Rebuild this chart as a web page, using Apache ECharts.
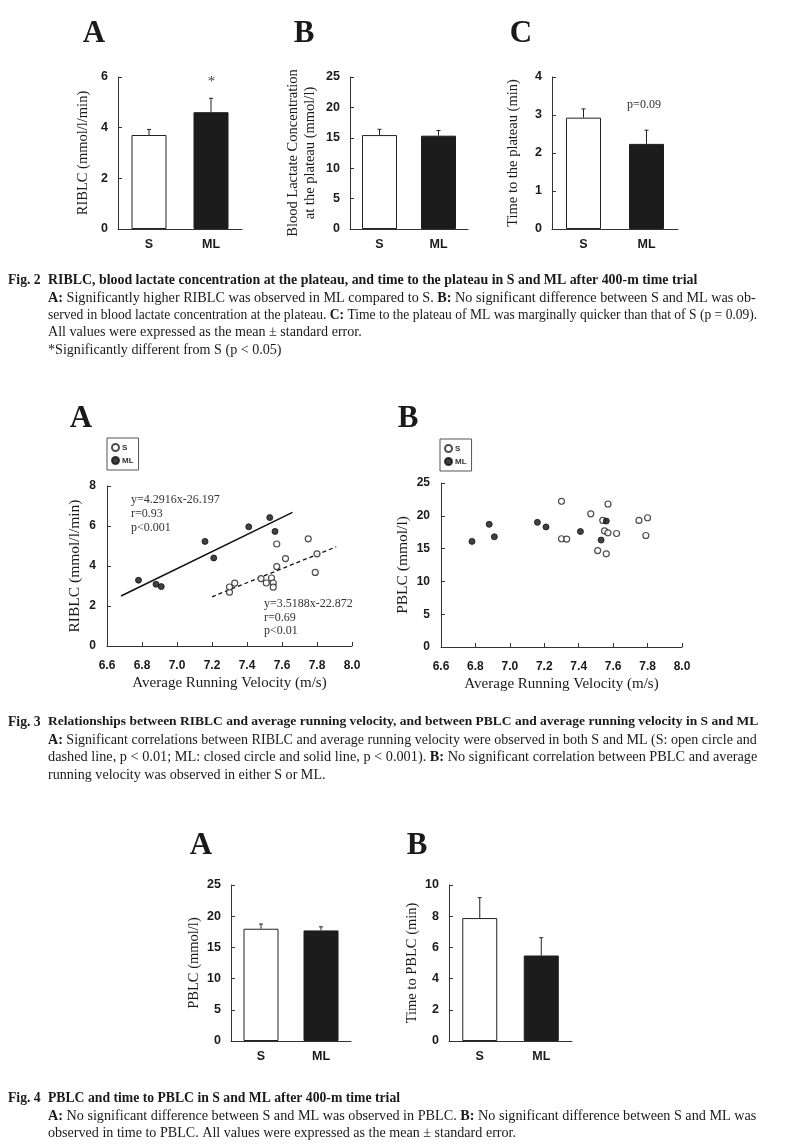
<!DOCTYPE html>
<html>
<head>
<meta charset="utf-8">
<script src="https://cdn.jsdelivr.net/npm/echarts@6/dist/echarts.min.js"></script>
<style>
html,body{margin:0;padding:0;background:#fff;}
#main{width:800px;height:1148px;}
</style>
</head>
<body>
<div id="main"></div>
<script>
// ---------- DATA ----------
const groups = ['S', 'ML'];

// Fig. 2
const fig2aMean = [3.71, 4.61];      // RIBLC
const fig2aSE   = [0.22, 0.55];
const fig2bMean = [15.45, 15.35];    // Blood lactate at plateau
const fig2bSE   = [0.95, 0.85];
const fig2cMean = [2.93, 2.24];      // Time to plateau
const fig2cSE   = [0.23, 0.36];

// Fig. 3A (RIBLC vs velocity)
const f3aSVel   = [7.30, 7.30, 7.33, 7.48, 7.51, 7.54, 7.55, 7.55, 7.57, 7.57, 7.62, 7.75, 7.80, 7.79];
const f3aSRiblc = [2.69, 2.95, 3.14, 3.37, 3.15, 3.40, 3.15, 2.94, 5.10, 3.97, 4.37, 5.36, 4.61, 3.68];
const f3aMLVel   = [6.78, 6.88, 6.91, 7.16, 7.21, 7.41, 7.53, 7.56];
const f3aMLRiblc = [3.29, 3.09, 2.97, 5.23, 4.40, 5.96, 6.42, 5.73];
const f3aMLFit = [[6.68, 2.50], [7.66, 6.68]];
const f3aSFit  = [[7.20, 2.46], [7.91, 4.96]];

// Fig. 3B (PBLC vs velocity)
const f3bSVel  = [7.30, 7.30, 7.33, 7.47, 7.51, 7.54, 7.55, 7.56, 7.57, 7.57, 7.62, 7.75, 7.80, 7.79];
const f3bSPblc = [22.2, 16.5, 16.45, 20.3, 14.7, 19.3, 17.7, 14.2, 17.4, 21.8, 17.3, 19.3, 19.7, 17.0];
const f3bMLVel  = [6.78, 6.88, 6.91, 7.16, 7.21, 7.41, 7.53, 7.56];
const f3bMLPblc = [16.1, 18.7, 16.8, 19.0, 18.3, 17.6, 16.3, 19.2];

// Fig. 4
const fig4aMean = [17.99, 17.72];    // PBLC
const fig4aSE   = [0.75, 0.58];
const fig4bMean = [7.88, 5.48];      // Time to PBLC
const fig4bSE   = [1.31, 1.14];

// ---------- HELPERS ----------
const SERIF = '"Liberation Serif", "Times New Roman", serif';
const SANS = '"Liberation Sans", Arial, sans-serif';
const INK = '#1a1a1a';
const BODY = 14.1;

function zip(a, b) { return a.map((v, i) => [v, b[i]]); }

function catX(gi) {
  return {
    type: 'category', gridIndex: gi, data: groups, boundaryGap: true,
    axisLine: {lineStyle: {color: '#333', width: 1}},
    axisTick: {show: false},
    axisLabel: {color: INK, fontFamily: SANS, fontWeight: 'bold', fontSize: 12.5, margin: 9}
  };
}
function valY(gi, max, interval, name, gap, extra) {
  return Object.assign({
    type: 'value', gridIndex: gi, min: 0, max: max, interval: interval,
    name: name, nameLocation: 'middle', nameGap: gap,
    nameTextStyle: {fontFamily: SERIF, fontSize: 14.5, color: INK, lineHeight: 17},
    axisLine: {show: true, lineStyle: {color: '#333', width: 1}},
    axisTick: {show: true, inside: true, length: 4, lineStyle: {color: '#333'}},
    axisLabel: {color: INK, fontFamily: SANS, fontWeight: 'bold', fontSize: 12.5, margin: 10},
    splitLine: {show: false}
  }, extra || {});
}
function barSeries(gi, means) {
  return {
    type: 'bar', xAxisIndex: gi, yAxisIndex: gi, barWidth: 35, silent: true,
    data: means.map((v, i) => ({
      value: v,
      itemStyle: i === 0 ? {color: '#ffffff', borderColor: '#222', borderWidth: 1}
                         : {color: '#1c1c1c', borderColor: '#1c1c1c', borderWidth: 1}
    })),
    z: 2
  };
}
function errSeries(gi, means, se) {
  return {
    type: 'custom', xAxisIndex: gi, yAxisIndex: gi, silent: true, z: 3,
    data: means.map((m, i) => [i, m, m + se[i]]),
    renderItem: function (params, api) {
      const lo = api.coord([api.value(0), api.value(1)]);
      const hi = api.coord([api.value(0), api.value(2)]);
      return {
        type: 'group',
        children: [
          {type: 'line', shape: {x1: lo[0], y1: lo[1], x2: hi[0], y2: hi[1]}, style: {stroke: '#222', lineWidth: 1}},
          {type: 'line', shape: {x1: hi[0] - 2, y1: hi[1], x2: hi[0] + 2, y2: hi[1]}, style: {stroke: '#222', lineWidth: 1}}
        ]
      };
    }
  };
}
function velX(gi) {
  return {
    type: 'value', gridIndex: gi, min: 6.6, max: 8.0, interval: 0.2,
    name: 'Average Running Velocity (m/s)', nameLocation: 'middle', nameGap: 30,
    nameTextStyle: {fontFamily: SERIF, fontSize: 15, color: INK},
    axisLine: {lineStyle: {color: '#333', width: 1}},
    axisTick: {show: true, inside: true, length: 4, lineStyle: {color: '#333'}},
    axisLabel: {color: INK, fontFamily: SANS, fontWeight: 'bold', fontSize: 12, margin: 14,
                formatter: v => v.toFixed(1)},
    splitLine: {show: false}
  };
}
const openSym = {color: '#ffffff', borderColor: '#222', borderWidth: 1.2};
const fillSym = {color: '#111111', borderColor: '#111111', borderWidth: 1};

function legendAt(left, top) {
  return {
    data: ['S', 'ML'], orient: 'vertical', left: left, top: top,
    selectedMode: false, icon: 'circle', itemWidth: 7, itemHeight: 7, itemGap: 4,
    padding: [5, 5, 5, 4], borderColor: '#555', borderWidth: 1,
    textStyle: {fontFamily: SANS, fontWeight: 'bold', fontSize: 8, color: '#333', padding: [0, 0, 0, -2]}
  };
}

function txt(x, y, text, opts) {
  const fs = (opts && opts.fontSize) || BODY;
  return {
    type: 'text', x: x, y: y, silent: true,
    style: Object.assign({
      text: text, fill: INK, fontFamily: SERIF, fontSize: BODY,
      textAlign: 'left', textVerticalAlign: 'middle',
      rich: {b: {fontFamily: SERIF, fontWeight: 'bold', fontSize: fs, fill: INK}}
    }, opts || {})
  };
}
function head(fs) { return {fontWeight: 'bold', fontSize: fs}; }

// ---------- OPTION ----------
const option = {
  backgroundColor: '#ffffff',
  animation: false,
  grid: [
    {left: 118, top: 77, width: 124, height: 152},   // 0 Fig2A
    {left: 350, top: 77, width: 118, height: 152},   // 1 Fig2B
    {left: 552, top: 77, width: 126, height: 152},   // 2 Fig2C
    {left: 107, top: 486, width: 245, height: 160},  // 3 Fig3A
    {left: 441, top: 483, width: 241, height: 164},  // 4 Fig3B
    {left: 231, top: 885, width: 120, height: 156},  // 5 Fig4A
    {left: 449, top: 885, width: 123, height: 156}   // 6 Fig4B
  ],
  xAxis: [catX(0), catX(1), catX(2), velX(3), velX(4), catX(5), catX(6)],
  yAxis: [
    valY(0, 6, 2, 'RIBLC (mmol/l/min)', 26),
    valY(1, 25, 5, 'Blood Lactate Concentration\nat the plateau (mmol/l)', 31),
    valY(2, 4, 1, 'Time to the plateau (min)', 30),
    valY(3, 8, 2, 'RIBLC (mmol/l/min)', 24, {nameTextStyle: {fontFamily: SERIF, fontSize: 15.5, color: INK},
         axisLabel: {color: INK, fontFamily: SANS, fontWeight: 'bold', fontSize: 12, margin: 11}}),
    valY(4, 25, 5, 'PBLC (mmol/l)', 30, {nameTextStyle: {fontFamily: SERIF, fontSize: 15.5, color: INK},
         axisLabel: {color: INK, fontFamily: SANS, fontWeight: 'bold', fontSize: 12, margin: 11}}),
    valY(5, 25, 5, 'PBLC (mmol/l)', 28),
    valY(6, 10, 2, 'Time to PBLC (min)', 28)
  ],
  legend: [legendAt(107, 438), legendAt(440, 439)],
  series: [
    barSeries(0, fig2aMean), errSeries(0, fig2aMean, fig2aSE),
    barSeries(1, fig2bMean), errSeries(1, fig2bMean, fig2bSE),
    barSeries(2, fig2cMean), errSeries(2, fig2cMean, fig2cSE),
    barSeries(5, fig4aMean), errSeries(5, fig4aMean, fig4aSE),
    barSeries(6, fig4bMean), errSeries(6, fig4bMean, fig4bSE),
    // Fig 3A
    {type: 'line', name: 'ML fit', xAxisIndex: 3, yAxisIndex: 3, data: f3aMLFit, symbol: 'none',
     lineStyle: {color: '#111', width: 1.5}, silent: true, z: 1},
    {type: 'line', name: 'S fit', xAxisIndex: 3, yAxisIndex: 3, data: f3aSFit, symbol: 'none',
     lineStyle: {color: '#111', width: 1.3, type: [4, 3]}, silent: true, z: 1},
    {type: 'scatter', name: 'S', xAxisIndex: 3, yAxisIndex: 3, data: zip(f3aSVel, f3aSRiblc),
     symbol: 'circle', symbolSize: 6, itemStyle: openSym, z: 3},
    {type: 'scatter', name: 'ML', xAxisIndex: 3, yAxisIndex: 3, data: zip(f3aMLVel, f3aMLRiblc),
     symbol: 'circle', symbolSize: 6, itemStyle: fillSym, z: 3},
    // Fig 3B
    {type: 'scatter', name: 'S', xAxisIndex: 4, yAxisIndex: 4, data: zip(f3bSVel, f3bSPblc),
     symbol: 'circle', symbolSize: 6, itemStyle: openSym, z: 3},
    {type: 'scatter', name: 'ML', xAxisIndex: 4, yAxisIndex: 4, data: zip(f3bMLVel, f3bMLPblc),
     symbol: 'circle', symbolSize: 6, itemStyle: fillSym, z: 3}
  ],
  graphic: [
    // panel letters
    txt(94, 34, 'A', {fontSize: 31, fontWeight: 'bold', textAlign: 'center'}),
    txt(304, 34, 'B', {fontSize: 31, fontWeight: 'bold', textAlign: 'center'}),
    txt(521, 34, 'C', {fontSize: 31, fontWeight: 'bold', textAlign: 'center'}),
    txt(81, 419, 'A', {fontSize: 31, fontWeight: 'bold', textAlign: 'center'}),
    txt(408, 419, 'B', {fontSize: 31, fontWeight: 'bold', textAlign: 'center'}),
    txt(201, 846, 'A', {fontSize: 31, fontWeight: 'bold', textAlign: 'center'}),
    txt(417, 846, 'B', {fontSize: 31, fontWeight: 'bold', textAlign: 'center'}),
    // annotations
    txt(211.5, 82, '*', {fontSize: 15, textAlign: 'center', fill: '#444'}),
    txt(644, 105, 'p=0.09', {fontSize: 12, textAlign: 'center', fill: '#333'}),
    txt(131, 500, 'y=4.2916x-26.197', {fontSize: 12, fill: '#333'}),
    txt(131, 513.5, 'r=0.93', {fontSize: 12, fill: '#333'}),
    txt(131, 527.5, 'p<0.001', {fontSize: 12, fill: '#333'}),
    txt(264, 604, 'y=3.5188x-22.872', {fontSize: 12, fill: '#333'}),
    txt(264, 617.5, 'r=0.69', {fontSize: 12, fill: '#333'}),
    txt(264, 631, 'p<0.01', {fontSize: 12, fill: '#333'}),
    // Fig 2 caption
    txt(8, 280, 'Fig. 2', head(13.7)),
    txt(48, 280, 'RIBLC, blood lactate concentration at the plateau, and time to the plateau in S and ML after 400-m time trial', head(13.9)),
    txt(48, 298, '{b|A:} Significantly higher RIBLC was observed in ML compared to S. {b|B:} No significant difference between S and ML was ob-', {fontSize: 14.2}),
    txt(48, 315, 'served in blood lactate concentration at the plateau. {b|C:} Time to the plateau of ML was marginally quicker than that of S (p = 0.09).', {fontSize: 13.55}),
    txt(48, 332.5, 'All values were expressed as the mean ± standard error.'),
    txt(48, 350, '*Significantly different from S (p < 0.05)'),
    // Fig 3 caption
    txt(8, 722, 'Fig. 3', head(13.7)),
    txt(48, 722, 'Relationships between RIBLC and average running velocity, and between PBLC and average running velocity in S and ML', head(13.5)),
    txt(48, 740, '{b|A:} Significant correlations between RIBLC and average running velocity were observed in both S and ML (S: open circle and', {fontSize: 14.05}),
    txt(48, 757.5, 'dashed line, p < 0.01; ML: closed circle and solid line, p < 0.001). {b|B:} No significant correlation between PBLC and average', {fontSize: 14.3}),
    txt(48, 775, 'running velocity was observed in either S or ML.'),
    // Fig 4 caption
    txt(8, 1098, 'Fig. 4', head(13.7)),
    txt(48, 1098, 'PBLC and time to PBLC in S and ML after 400-m time trial', head(13.7)),
    txt(48, 1116, '{b|A:} No significant difference between S and ML was observed in PBLC. {b|B:} No significant difference between S and ML was', {fontSize: 14.2}),
    txt(48, 1133.5, 'observed in time to PBLC. All values were expressed as the mean ± standard error.')
  ]
};

const chart = echarts.init(document.getElementById('main'), null, {renderer: 'canvas', width: 800, height: 1148});
chart.setOption(option);
</script>
</body>
</html>
